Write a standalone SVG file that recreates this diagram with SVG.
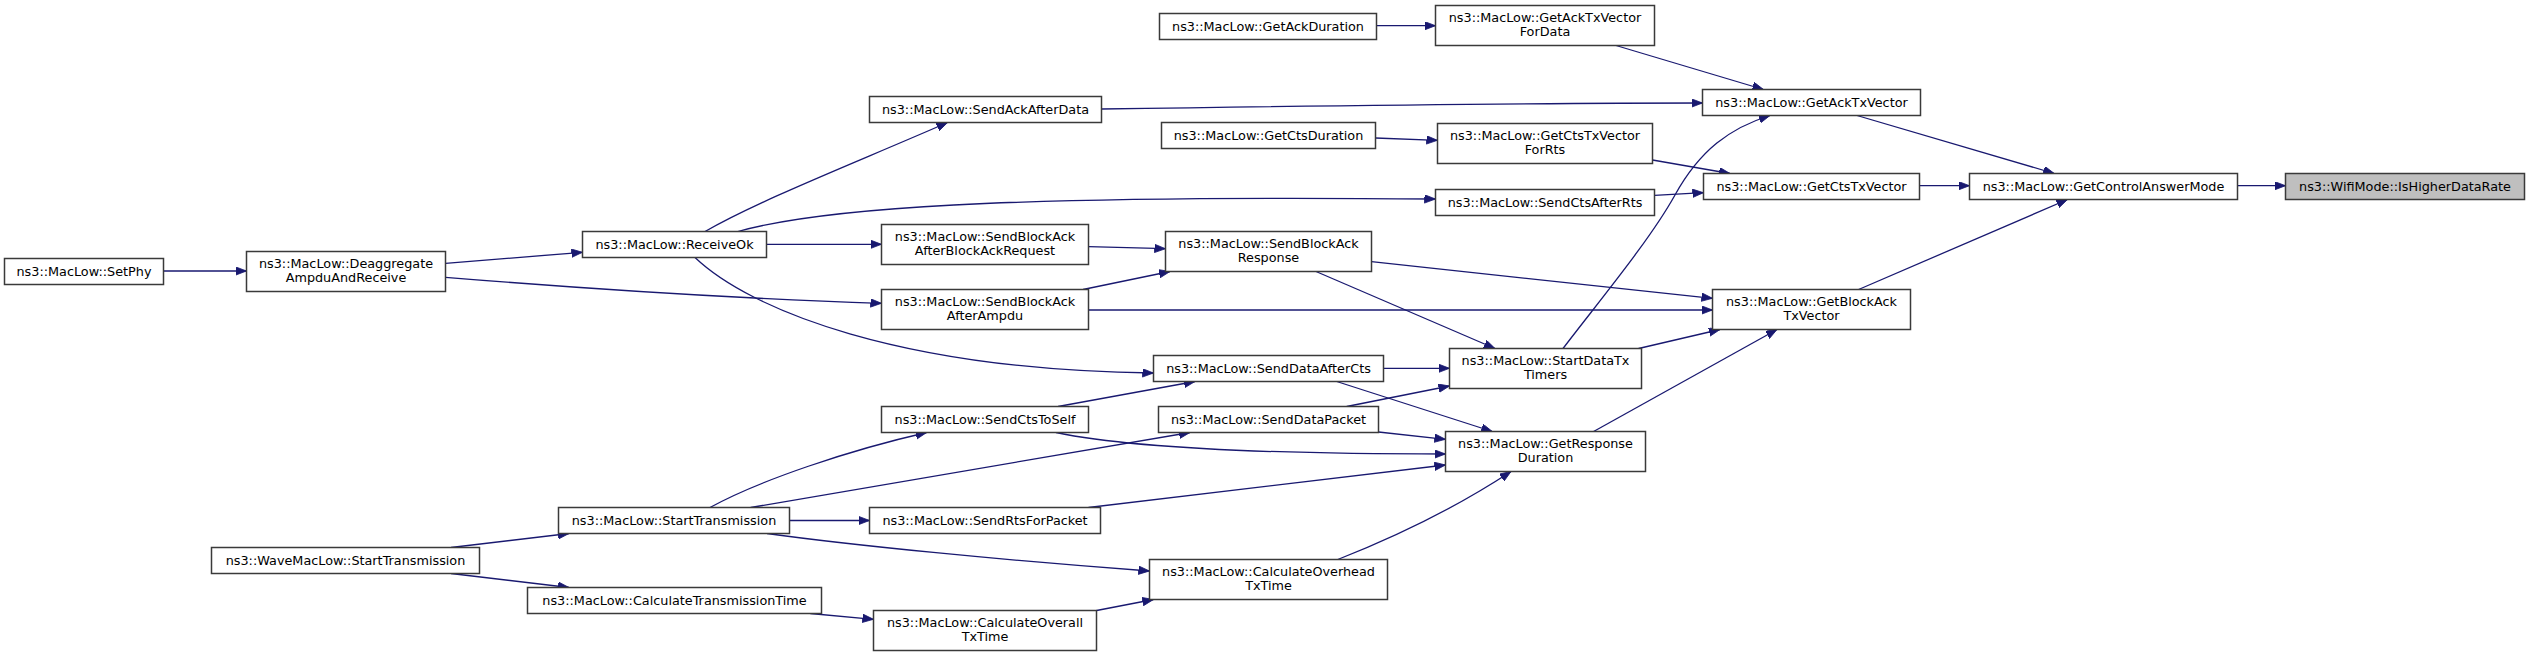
<svg xmlns="http://www.w3.org/2000/svg" width="2529" height="656" viewBox="0 0 2529 656">
<style>
.n rect{fill:#ffffff;stroke:#3a3a3a;stroke-width:1.5}
.n.h rect{fill:#bfbfbf}
.n text{font-family:"DejaVu Sans",sans-serif;font-size:12.8px;fill:#000;text-anchor:middle}
.e path{fill:none;stroke:#191970;stroke-width:1.3}
</style>
<defs>
<marker id="ah" markerWidth="12" markerHeight="9" refX="11" refY="4.2" orient="auto" markerUnits="userSpaceOnUse">
<path d="M0,0 L11,4.2 L0,8.4 z" fill="#191970" stroke="#191970" stroke-width="0.8"/>
</marker>
</defs>
<rect width="2529" height="656" fill="#ffffff"/>
<g class="e" id="edges">
<path marker-end="url(#ah)" d="M164,271 L246.5,271"/>
<path marker-end="url(#ah)" d="M445.5,263.3 L582.5,252.3"/>
<path marker-end="url(#ah)" d="M445.5,277.3 C600,290 750,299 881.5,303.3"/>
<path marker-end="url(#ah)" d="M704.6,231.7 C760,200 850,165 947.6,122.5"/>
<path marker-end="url(#ah)" d="M736,232 C820,208 1000,195 1435.5,199"/>
<path marker-end="url(#ah)" d="M766.5,244.3 L881.5,244.3"/>
<path marker-end="url(#ah)" d="M695,257.5 C750,310 900,370 1153.5,373"/>
<path marker-end="url(#ah)" d="M451,547.5 L569,533.5"/>
<path marker-end="url(#ah)" d="M451,573.5 L569,587.5"/>
<path marker-end="url(#ah)" d="M710,507.5 C760,480 850,450 926.7,432.5"/>
<path marker-end="url(#ah)" d="M750.7,507.5 L1190,432.5"/>
<path marker-end="url(#ah)" d="M789.5,520.5 L869.5,520.5"/>
<path marker-end="url(#ah)" d="M767,533.5 C850,545 1000,560 1149.5,571"/>
<path marker-end="url(#ah)" d="M810.3,613.5 L873.5,619.3"/>
<path marker-end="url(#ah)" d="M1096.6,610.5 L1153.5,599.5"/>
<path marker-end="url(#ah)" d="M1101.5,109 C1300,106 1500,103 1702.5,103"/>
<path marker-end="url(#ah)" d="M1376.5,25.7 L1435.5,25.7"/>
<path marker-end="url(#ah)" d="M1616,45.5 L1763.5,89.5"/>
<path marker-end="url(#ah)" d="M1375.5,138 L1437.5,140.3"/>
<path marker-end="url(#ah)" d="M1652.5,160 L1730,173.5"/>
<path marker-end="url(#ah)" d="M1654.5,195.3 L1703.5,192.7"/>
<path marker-end="url(#ah)" d="M1088.5,246.7 L1165.5,248.7"/>
<path marker-end="url(#ah)" d="M1083,289.5 L1170,271.5"/>
<path marker-end="url(#ah)" d="M1088.5,310 L1712.5,310"/>
<path marker-end="url(#ah)" d="M1371.5,261.7 L1712.5,298.3"/>
<path marker-end="url(#ah)" d="M1316,271.5 L1495,348.5"/>
<path marker-end="url(#ah)" d="M1058,406.5 L1195,381.5"/>
<path marker-end="url(#ah)" d="M1056,432.5 C1120,446 1250,454 1445.5,454"/>
<path marker-end="url(#ah)" d="M1383.5,368.3 L1449.5,368.3"/>
<path marker-end="url(#ah)" d="M1336.7,381.5 L1492.3,431.5"/>
<path marker-end="url(#ah)" d="M1346.7,406.5 L1449.5,386"/>
<path marker-end="url(#ah)" d="M1378.5,432 L1445.5,439.3"/>
<path marker-end="url(#ah)" d="M1088.5,507.5 L1445.5,465"/>
<path marker-end="url(#ah)" d="M1337.8,559.5 C1400,535 1460,505 1511,471.5"/>
<path marker-end="url(#ah)" d="M1563,348.5 C1600,300 1650,240 1675,195 C1700,150 1730,128 1770,115.5"/>
<path marker-end="url(#ah)" d="M1638.6,348.5 L1720,329.5"/>
<path marker-end="url(#ah)" d="M1593.6,431.5 L1777,329.5"/>
<path marker-end="url(#ah)" d="M1857,115.5 L2054.3,173.5"/>
<path marker-end="url(#ah)" d="M1919.5,185.7 L1969.5,185.7"/>
<path marker-end="url(#ah)" d="M1858.6,289.5 L2067.5,199.5"/>
<path marker-end="url(#ah)" d="M2237.5,185.7 L2285.5,185.7"/>
</g>
<g class="n" id="n_setphy"><rect x="4.5" y="258.5" width="159" height="26"/><text x="84" y="275.5">ns3::MacLow::SetPhy</text></g>
<g class="n" id="n_deaggregate"><rect x="246.5" y="251.5" width="199" height="40"/><text x="346" y="268">ns3::MacLow::Deaggregate</text><text x="346" y="282">AmpduAndReceive</text></g>
<g class="n" id="n_receiveok"><rect x="582.5" y="231.5" width="184" height="26"/><text x="674.5" y="248.5">ns3::MacLow::ReceiveOk</text></g>
<g class="n" id="n_wave_starttx"><rect x="211.5" y="547.5" width="268" height="26"/><text x="345.5" y="564.5">ns3::WaveMacLow::StartTransmission</text></g>
<g class="n" id="n_starttx"><rect x="558.5" y="507.5" width="231" height="26"/><text x="674" y="524.5">ns3::MacLow::StartTransmission</text></g>
<g class="n" id="n_calctranstime"><rect x="527.5" y="587.5" width="294" height="26"/><text x="674.5" y="604.5">ns3::MacLow::CalculateTransmissionTime</text></g>
<g class="n" id="n_sendackafterdata"><rect x="869.5" y="96.5" width="232" height="26"/><text x="985.5" y="113.5">ns3::MacLow::SendAckAfterData</text></g>
<g class="n" id="n_sendba_request"><rect x="881.5" y="224.5" width="207" height="40"/><text x="985" y="241">ns3::MacLow::SendBlockAck</text><text x="985" y="255">AfterBlockAckRequest</text></g>
<g class="n" id="n_sendba_ampdu"><rect x="881.5" y="289.5" width="207" height="40"/><text x="985" y="306">ns3::MacLow::SendBlockAck</text><text x="985" y="320">AfterAmpdu</text></g>
<g class="n" id="n_sendctstoself"><rect x="881.5" y="406.5" width="207" height="26"/><text x="985" y="423.5">ns3::MacLow::SendCtsToSelf</text></g>
<g class="n" id="n_sendrts"><rect x="869.5" y="507.5" width="231" height="26"/><text x="985" y="524.5">ns3::MacLow::SendRtsForPacket</text></g>
<g class="n" id="n_calcoverall"><rect x="873.5" y="610.5" width="223" height="40"/><text x="985" y="627">ns3::MacLow::CalculateOverall</text><text x="985" y="641">TxTime</text></g>
<g class="n" id="n_getackdur"><rect x="1159.5" y="13.5" width="217" height="26"/><text x="1268" y="30.5">ns3::MacLow::GetAckDuration</text></g>
<g class="n" id="n_getctsdur"><rect x="1161.5" y="122.5" width="214" height="26"/><text x="1268.5" y="139.5">ns3::MacLow::GetCtsDuration</text></g>
<g class="n" id="n_sendba_resp"><rect x="1165.5" y="231.5" width="206" height="40"/><text x="1268.5" y="248">ns3::MacLow::SendBlockAck</text><text x="1268.5" y="262">Response</text></g>
<g class="n" id="n_senddataaftercts"><rect x="1153.5" y="355.5" width="230" height="26"/><text x="1268.5" y="372.5">ns3::MacLow::SendDataAfterCts</text></g>
<g class="n" id="n_senddatapacket"><rect x="1158.5" y="406.5" width="220" height="26"/><text x="1268.5" y="423.5">ns3::MacLow::SendDataPacket</text></g>
<g class="n" id="n_calcoverhead"><rect x="1149.5" y="559.5" width="238" height="40"/><text x="1268.5" y="576">ns3::MacLow::CalculateOverhead</text><text x="1268.5" y="590">TxTime</text></g>
<g class="n" id="n_getacktx_fordata"><rect x="1435.5" y="5.5" width="219" height="40"/><text x="1545" y="22">ns3::MacLow::GetAckTxVector</text><text x="1545" y="36">ForData</text></g>
<g class="n" id="n_getctstx_forrts"><rect x="1437.5" y="123.5" width="215" height="40"/><text x="1545" y="140">ns3::MacLow::GetCtsTxVector</text><text x="1545" y="154">ForRts</text></g>
<g class="n" id="n_sendctsafterrts"><rect x="1435.5" y="189.5" width="219" height="26"/><text x="1545" y="206.5">ns3::MacLow::SendCtsAfterRts</text></g>
<g class="n" id="n_startdatatx"><rect x="1449.5" y="348.5" width="192" height="40"/><text x="1545.5" y="365">ns3::MacLow::StartDataTx</text><text x="1545.5" y="379">Timers</text></g>
<g class="n" id="n_getresponse"><rect x="1445.5" y="431.5" width="200" height="40"/><text x="1545.5" y="448">ns3::MacLow::GetResponse</text><text x="1545.5" y="462">Duration</text></g>
<g class="n" id="n_getacktx"><rect x="1702.5" y="89.5" width="218" height="26"/><text x="1811.5" y="106.5">ns3::MacLow::GetAckTxVector</text></g>
<g class="n" id="n_getctstx"><rect x="1703.5" y="173.5" width="216" height="26"/><text x="1811.5" y="190.5">ns3::MacLow::GetCtsTxVector</text></g>
<g class="n" id="n_getbatx"><rect x="1712.5" y="289.5" width="198" height="40"/><text x="1811.5" y="306">ns3::MacLow::GetBlockAck</text><text x="1811.5" y="320">TxVector</text></g>
<g class="n" id="n_getcontrol"><rect x="1969.5" y="173.5" width="268" height="26"/><text x="2103.5" y="190.5">ns3::MacLow::GetControlAnswerMode</text></g>
<g class="n h" id="n_ishigher"><rect x="2285.5" y="173.5" width="239" height="26"/><text x="2405" y="190.5">ns3::WifiMode::IsHigherDataRate</text></g>
</svg>
